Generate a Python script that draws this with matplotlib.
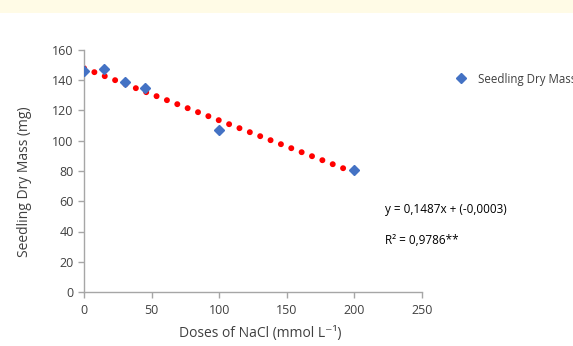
import matplotlib
matplotlib.use("Agg")
import matplotlib.pyplot as plt
from matplotlib.patches import Rectangle

# observed values
doses = [0, 15, 30, 45, 100, 200]
dry_mass = [146, 147.5, 138.6, 134.8, 106.8, 80.8]

# fitted trend line (end points)
trend_x = [0, 197]
trend_y = [148, 80]

x_ticks = [0, 50, 100, 150, 200, 250]
y_ticks = [0, 20, 40, 60, 80, 100, 120, 140, 160]

plt.rcParams['font.family'] = ['Open Sans', 'DejaVu Sans']
grey_txt = '#404040'
axis_col = '#A6A6A6'

fig = plt.figure(figsize=(5.73, 3.46), dpi=100)
fig.patches.append(Rectangle((0, 1 - 13 / 346), 1, 13 / 346, transform=fig.transFigure,
                             facecolor='#FFFBE6', edgecolor='none', zorder=0))

ax = fig.add_axes([84 / 573, 1 - 292 / 346, (422 - 84) / 573, (292 - 50) / 346])

ax.plot(trend_x, trend_y, color='#FF0000', lw=4.3, linestyle=(0, (0.01, 1.85)),
        dash_capstyle='round', zorder=2)
ax.plot(doses, dry_mass, 'D', color='#4472C4', markersize=5.5, zorder=3,
        label='Seedling Dry Mass')

ax.set_xlim(0, 250)
ax.set_ylim(0, 160)
ax.set_xticks(x_ticks)
ax.set_yticks(y_ticks)
for s in ['top', 'right']:
    ax.spines[s].set_visible(False)
for s in ['left', 'bottom']:
    ax.spines[s].set_color(axis_col)
    ax.spines[s].set_linewidth(1)
ax.tick_params(colors=axis_col, labelcolor=grey_txt, labelsize=9, length=4, width=1)
ax.tick_params(axis='x', pad=5)

ax.set_xlabel('Doses of NaCl (mmol L\u207b\u00b9)', fontsize=10, color=grey_txt)
ax.set_ylabel('Seedling Dry Mass (mg)', fontsize=10, color=grey_txt)
ax.xaxis.set_label_coords(0.522, -0.14)
ax.yaxis.set_label_coords(-0.154, 0.455)

fig.legend(loc='center left', bbox_to_anchor=(439 / 573, 1 - 79 / 346), frameon=False,
           fontsize=8.3, handletextpad=0.5, labelcolor=grey_txt)

fig.text(385 / 573, 1 - 210 / 346, 'y = 0,1487x + (-0,0003)', fontsize=8.5,
         color='#000000', va='center')
fig.text(385 / 573, 1 - 240 / 346, 'R\u00b2 = 0,9786**', fontsize=8.5,
         color='#000000', va='center')

fig.savefig('out.png', dpi=100)
